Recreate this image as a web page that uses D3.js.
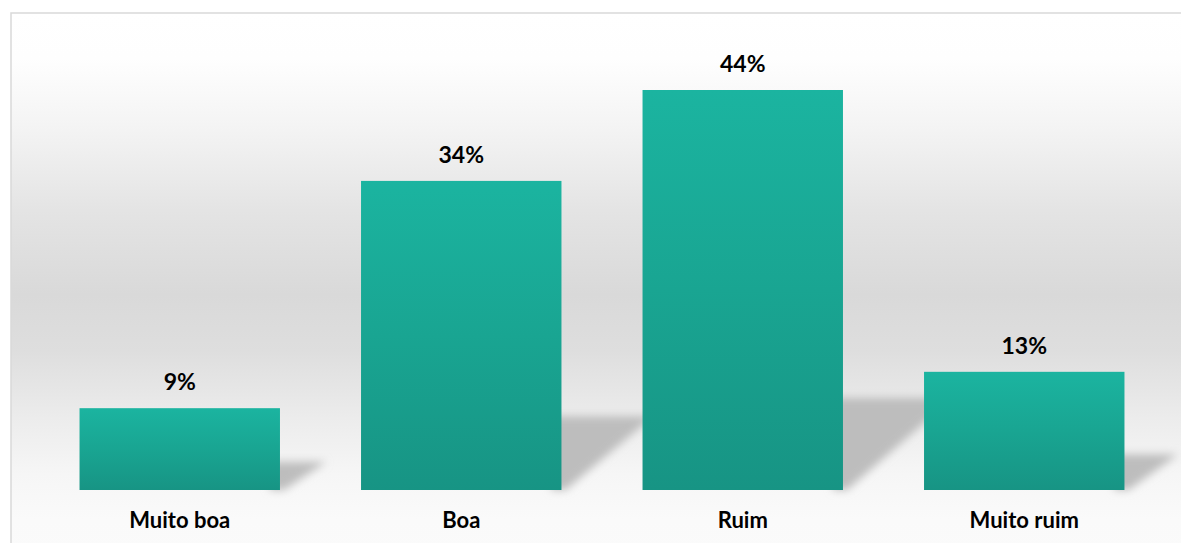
<!DOCTYPE html>
<html>
<head>
<meta charset="utf-8">
<script src="https://cdn.jsdelivr.net/npm/d3@7"></script>
<style>
  html, body { margin: 0; padding: 0; background: #ffffff; overflow: hidden; }
  svg { display: block; }
  text { font-family: Lato, "Open Sans", sans-serif; font-weight: bold; fill: #000; }
</style>
</head>
<body>
<svg id="chart" width="1181" height="543"></svg>
<script>
// Survey answers and their shares (percent)
const categories = ["Muito boa", "Boa", "Ruim", "Muito ruim"];
const values = [9, 34, 44, 13];
const valueLabels = ["9%", "34%", "44%", "13%"];

const W = 1181, H = 543;
const plot = { left: 39, right: 1165, top: 90, bottom: 490 };

const svg = d3.select("#chart");
const defs = svg.append("defs");

// Chart area background: white at the top, grey band in the middle, fading light at the floor
const bg = defs.append("linearGradient").attr("id", "bgGrad")
  .attr("x1", 0).attr("y1", 0).attr("x2", 0).attr("y2", 1);
[[0, "#ffffff"], [0.08, "#fefefe"], [0.2, "#f4f4f4"], [0.35, "#e4e4e4"],
 [0.5, "#d9d9d9"], [0.6, "#dedede"], [0.72, "#ececec"], [0.82, "#f6f6f6"],
 [0.9, "#fafafa"], [1, "#fbfbfb"]]
  .forEach(([o, c]) => bg.append("stop").attr("offset", o).attr("stop-color", c));

// Bar fill: lighter teal at the top, deeper teal at the base
const barGrad = defs.append("linearGradient").attr("id", "barGrad")
  .attr("x1", 0).attr("y1", 0).attr("x2", 0).attr("y2", 1);
[[0, "#1bb4a0"], [0.5, "#19a592"], [1, "#179484"]]
  .forEach(([o, c]) => barGrad.append("stop").attr("offset", o).attr("stop-color", c));

// Soft blur for the cast shadows
defs.append("filter").attr("id", "shadowBlur")
  .attr("x", "-30%").attr("y", "-30%").attr("width", "160%").attr("height", "160%")
  .append("feGaussianBlur").attr("stdDeviation", 4);

// Background and frame
svg.append("rect")
  .attr("x", 11).attr("y", 13).attr("width", W + 20).attr("height", H + 20)
  .attr("fill", "url(#bgGrad)")
  .attr("stroke", "#d9d9d9").attr("stroke-width", 1.5);

// Scales
const x = d3.scaleBand().domain(categories)
  .range([plot.left, plot.right]).paddingInner(0.288).paddingOuter(0.144);
const y = d3.scaleLinear().domain([0, d3.max(values)]).range([plot.bottom, plot.top]);

const data = categories.map((c, i) => ({ cat: c, value: values[i], label: valueLabels[i] }));

// Perspective shadows thrown up and to the right of each bar
svg.append("g").selectAll("path").data(data).join("path")
  .attr("filter", "url(#shadowBlur)")
  .attr("fill", "#bdbdbd")
  .attr("d", d => {
    const x1 = x(d.cat) + x.bandwidth();
    const h = y(0) - y(d.value);
    const s = 0.2 * h + 12;          // shadow height
    const dx = 0.2 * h + 30;         // shadow reach to the right
    const b = y(0);
    return `M${x1 - 10},${b} L${x1 - 10},${b - s} L${x1 + dx},${b - s} L${x1 + 4},${b} Z`;
  });

// Bars
svg.append("g").selectAll("rect").data(data).join("rect")
  .attr("x", d => x(d.cat))
  .attr("y", d => y(d.value))
  .attr("width", x.bandwidth())
  .attr("height", d => y(0) - y(d.value))
  .attr("fill", "url(#barGrad)");

// Value labels above the bars
svg.append("g").selectAll("text").data(data).join("text")
  .attr("x", d => x(d.cat) + x.bandwidth() / 2)
  .attr("y", d => y(d.value) - 18)
  .attr("text-anchor", "middle")
  .attr("font-size", 23)
  .text(d => d.label);

// Category axis (labels only, no line or ticks)
const xAxis = svg.append("g")
  .attr("transform", `translate(0,${plot.bottom})`)
  .call(d3.axisBottom(x).tickSize(0).tickPadding(22));
xAxis.select(".domain").remove();
xAxis.selectAll("text")
  .attr("font-size", 22)
  .attr("font-family", "Lato, 'Open Sans', sans-serif")
  .attr("font-weight", "bold")
  .attr("fill", "#000");
</script>
</body>
</html>
